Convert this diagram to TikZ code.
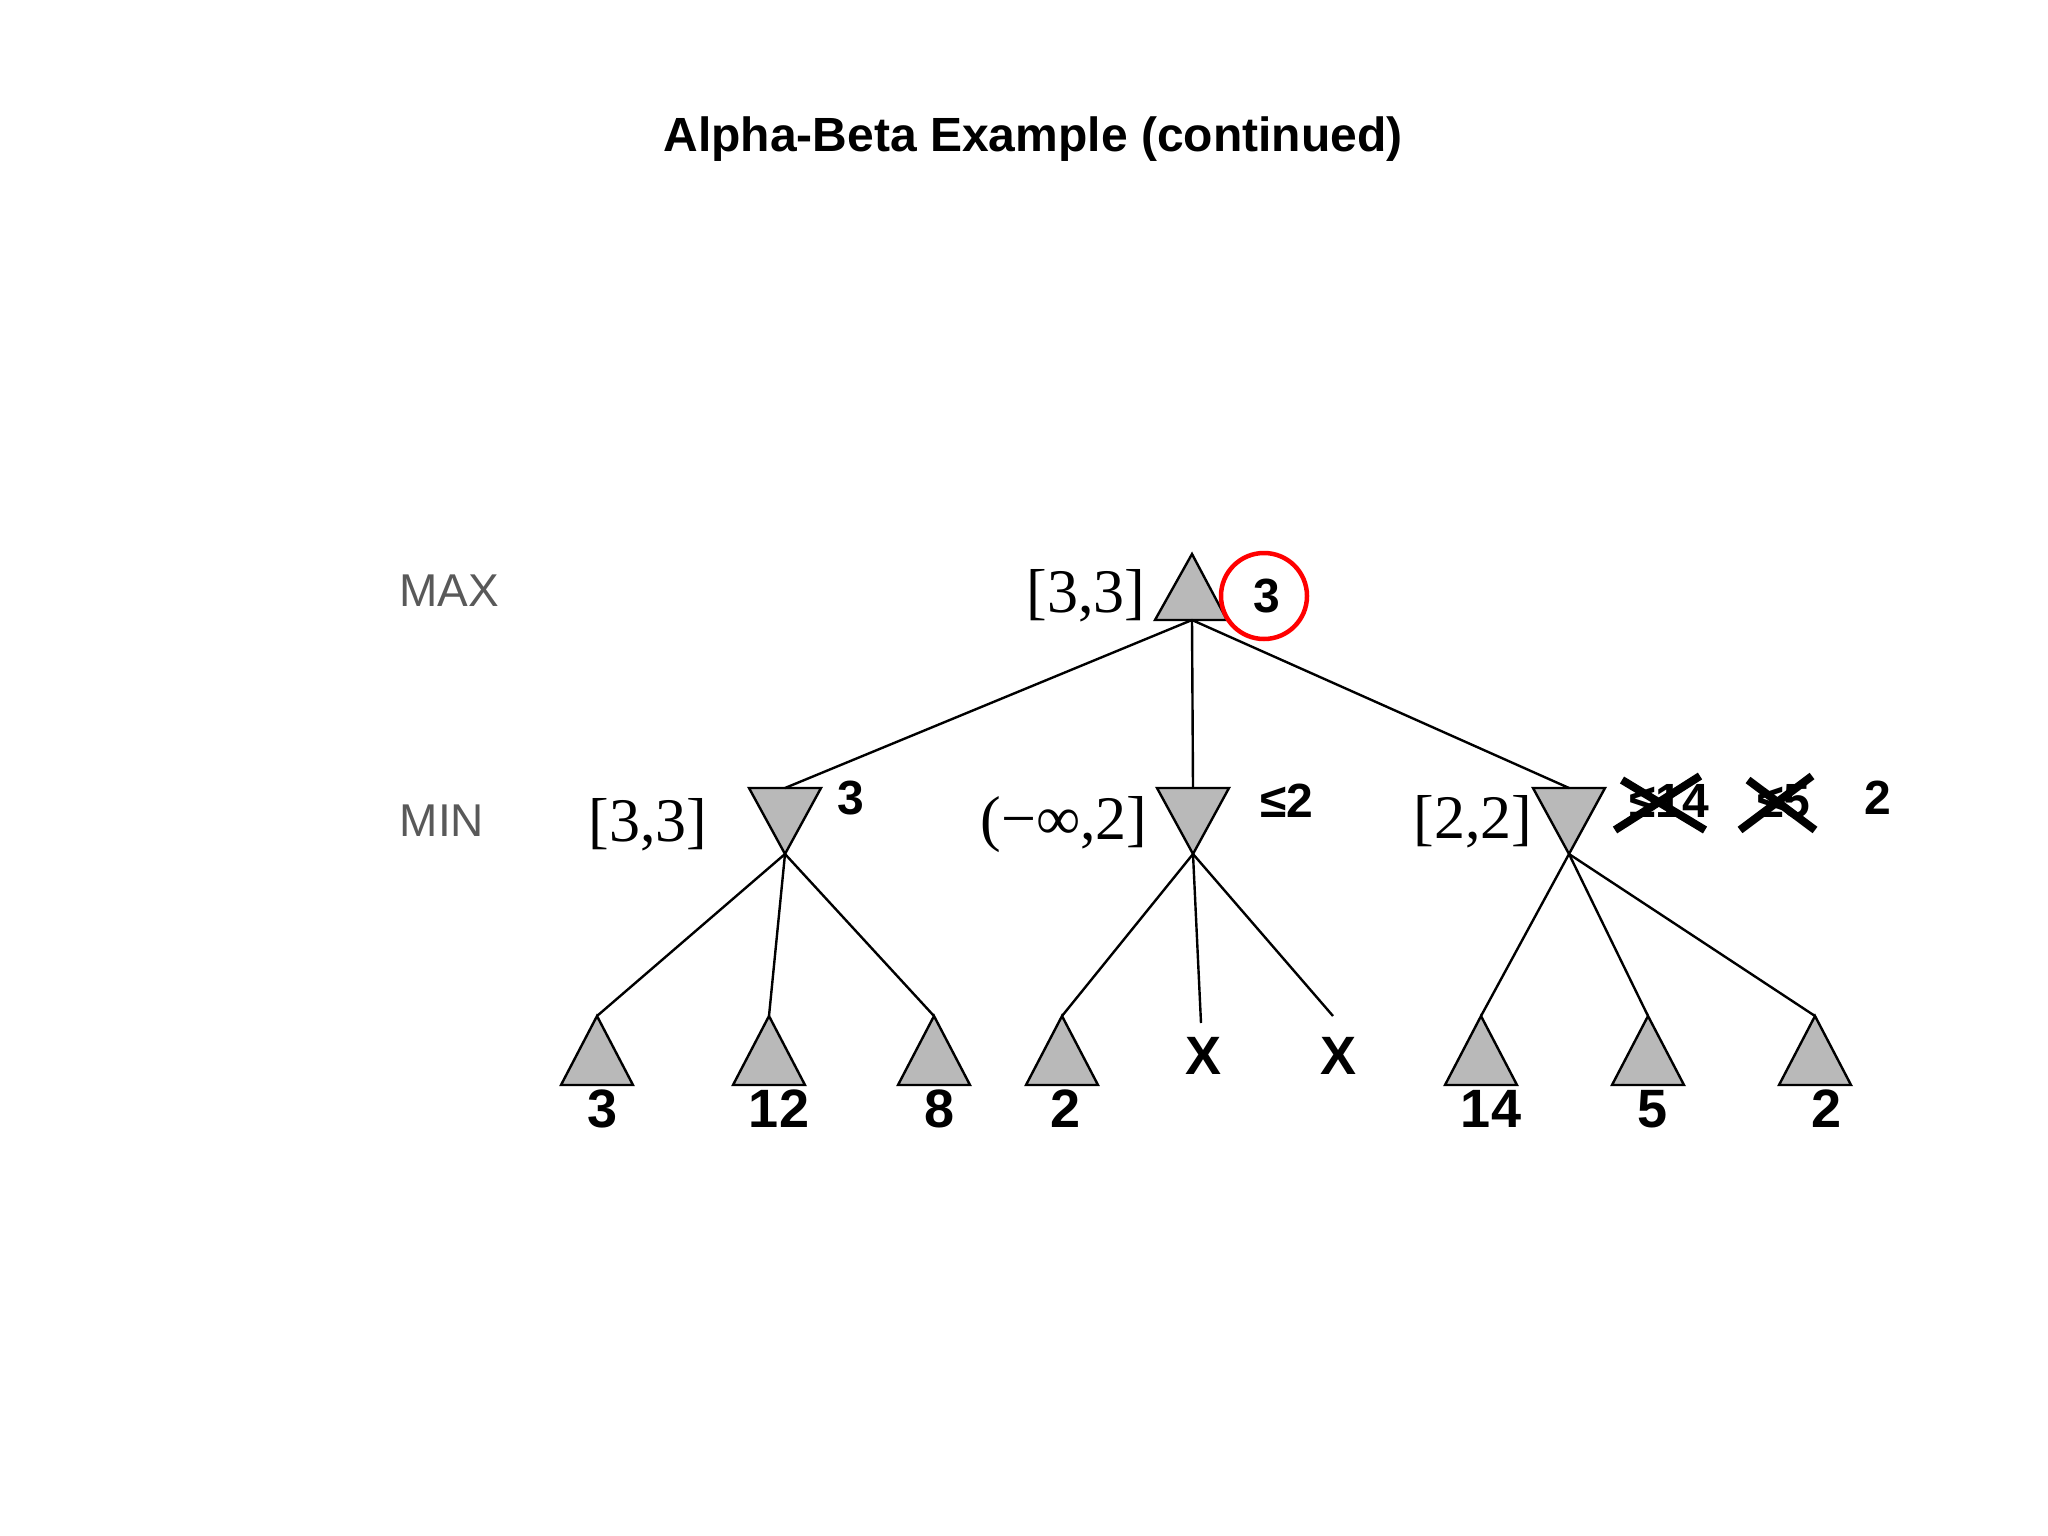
\documentclass[tikz,border=0pt]{standalone}
\usepackage{fontspec}
\setmainfont{Liberation Serif}
\newfontfamily\arial{Liberation Sans}
\begin{document}
\begin{tikzpicture}[x=1pt,y=-1pt,
  tri/.style={fill=gray!55,draw=black,line width=2.4pt,line join=miter},
  edge/.style={line width=2.4pt},
  lvl/.style={font=\arial\fontsize{46}{50}\selectfont,text=gray!70!black},
  br/.style={font=\fontsize{62}{66}\selectfont},
  val/.style={font=\arial\bfseries\fontsize{48}{52}\selectfont},
  leafv/.style={font=\arial\bfseries\fontsize{54}{58}\selectfont},
  cross/.style={line width=8pt}]
\useasboundingbox (0,0) rectangle (2048,1536);
\node[font=\arial\bfseries\fontsize{48}{52}\selectfont] (title) at (1033,139) {Alpha-Beta Example (continued)};
\node[lvl] (max) at (449,591) {MAX};
\node[lvl] (min) at (442,821) {MIN};
% root
\draw[tri] (1192,554) -- (1227,620) -- (1155,620) -- cycle;
\coordinate (r) at (1192,620);
% min nodes
\foreach \n/\x in {m1/785,m2/1193,m3/1569}{
  \draw[tri] (\x-36,788) -- (\x+36,788) -- (\x,854) -- cycle;
  \coordinate (\n) at (\x,854);
  \coordinate (\n t) at (\x,788);
}
% leaves
\foreach \n/\x in {l1/597,l2/769,l3/934,l4/1062,l6/1481,l7/1648,l8/1815}{
  \draw[tri] (\x,1016) -- (\x+36,1085) -- (\x-36,1085) -- cycle;
  \coordinate (\n) at (\x,1016);
}
\coordinate (x1) at (1201,1023);
\coordinate (x2) at (1333,1016);
\foreach \a/\b in {r/m1t,r/m2t,r/m3t,m1/l1,m1/l2,m1/l3,m2/l4,m2/x1,m2/x2,m3/l6,m3/l7,m3/l8}
  \draw[edge] (\a) -- (\b);
\node[leafv] (xa) at (1203,1056) {X};
\node[leafv] (xb) at (1338,1056) {X};
\foreach \n/\x/\t in {n1/603/3,n2/779/12,n3/940/8,n4/1066/2,n6/1491/14,n7/1652/5,n8/1826/2}
  \node[leafv] (\n) at (\x,1109) {\t};
\node[br] (b0) at (1086,596) {[3,3]};
\node[br] (b1) at (648,825) {[3,3]};
\node[br] (b2) at (1064,825) {(−∞,2]};
\node[br] (b3) at (1473,822) {[2,2]};
\node[val] (v0) at (1267,596) {3};
\draw[red,line width=4.5pt] (1264,596) circle (43);
\node[val] (v1) at (851,798) {3};
\node[val] (v2) at (1287,801) {≤2};
\node[val] (v3) at (1669,801) {≤14};
\node[val] (v4) at (1784,801) {≤5};
\node[val] (v5) at (1878,798) {2};
\draw[cross] (1622,780) -- (1705,830) (1615,830) -- (1700,776);
\draw[cross] (1748,780) -- (1815,830) (1740,830) -- (1812,776);
\end{tikzpicture}
\end{document}
